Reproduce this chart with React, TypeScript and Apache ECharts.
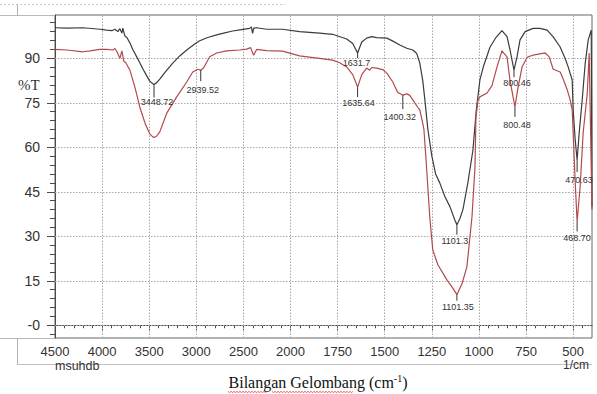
import React, { useEffect, useRef } from "react";
import * as echarts from "echarts";

// Wavenumber (cm-1) and %T for the upper (black) spectrum
const blackW = [4500, 4373, 4203, 4023, 3950, 3896, 3864, 3833, 3811, 3790, 3780, 3758, 3737, 3705, 3674, 3631, 3600, 3568, 3525, 3494, 3462, 3449, 3420, 3388, 3335, 3250, 3176, 3102, 3017, 2964, 2879, 2784, 2699, 2614, 2519, 2434, 2415, 2403, 2390, 2360, 2254, 2085, 1952, 1846, 1777, 1702, 1670, 1644, 1622, 1596, 1569, 1543, 1489, 1457, 1420, 1383, 1351, 1330, 1314, 1298, 1287, 1271, 1250, 1230, 1208, 1181, 1154, 1128, 1117, 1101, 1085, 1059, 1032, 1015, 995, 975, 941, 910, 878, 851, 835, 814, 798, 782, 755, 712, 676, 638, 606, 569, 543, 527, 505, 500, 489, 479, 468, 452, 436, 420, 404, 400];
const blackT = [100.3, 100.2, 100.3, 99.8, 99.5, 99.3, 99.8, 99.0, 100.0, 98.5, 100.2, 97.5, 97.0, 95.2, 93.0, 90.4, 88.5, 86.5, 84.0, 82.3, 81.4, 81.2, 81.8, 83.0, 85.2, 88.4, 90.8, 92.8, 94.8, 95.9, 97.0, 97.9, 98.6, 99.2, 99.7, 100.1, 100.6, 98.4, 100.2, 100.3, 99.8, 99.8, 99.0, 98.5, 98.1, 96.5, 95.0, 91.8, 95.5, 96.8, 97.3, 97.0, 96.8, 95.8, 94.5, 93.4, 92.8, 91.6, 88.4, 82.4, 76.0, 66.0, 57.0, 51.0, 48.0, 43.4, 40.0, 35.5, 33.9, 36.0, 39.0, 48.0, 59.0, 72.0, 82.7, 87.5, 93.8, 97.0, 99.3, 97.3, 92.8, 86.0, 90.5, 96.2, 99.0, 100.1, 100.1, 99.5, 97.2, 93.8, 90.0, 87.2, 82.7, 72.6, 62.4, 55.7, 64.8, 76.0, 88.4, 96.2, 99.5, 40.0];

// Wavenumber (cm-1) and %T for the lower (red) spectrum
const redW = [4500, 4373, 4203, 4129, 4023, 3950, 3886, 3864, 3843, 3811, 3790, 3769, 3748, 3705, 3652, 3600, 3545, 3494, 3462, 3449, 3420, 3388, 3314, 3208, 3102, 3038, 2985, 2953, 2922, 2858, 2784, 2678, 2540, 2466, 2424, 2392, 2360, 2254, 2085, 1952, 1846, 1777, 1739, 1702, 1670, 1644, 1622, 1596, 1580, 1569, 1543, 1511, 1489, 1457, 1431, 1404, 1383, 1367, 1351, 1325, 1314, 1298, 1292, 1282, 1261, 1245, 1218, 1170, 1144, 1117, 1090, 1064, 1037, 1021, 1016, 1005, 995, 957, 931, 904, 878, 851, 835, 809, 793, 771, 745, 712, 648, 627, 606, 569, 553, 532, 516, 505, 489, 479, 463, 447, 425, 415, 400];
const redT = [93.0, 92.8, 92.2, 92.5, 93.0, 93.0, 92.8, 93.3, 92.3, 90.0, 92.5, 89.0, 88.5, 86.0, 80.3, 73.6, 68.2, 64.5, 63.5, 63.3, 63.8, 65.2, 71.5, 77.0, 82.0, 85.4, 86.3, 86.0, 86.8, 90.5, 91.8, 92.5, 92.8, 93.1, 93.6, 91.0, 93.0, 92.6, 92.4, 90.8, 90.0, 89.4, 88.5, 87.1, 84.5, 80.3, 84.5, 86.7, 86.0, 86.9, 86.7, 86.2, 85.0, 82.0, 78.5, 77.6, 78.0, 77.5, 76.0, 73.5, 72.6, 68.0, 66.0, 57.0, 36.5, 25.4, 20.4, 15.3, 13.0, 10.3, 14.0, 19.7, 36.5, 53.4, 70.0, 76.0, 77.0, 78.3, 80.8, 87.1, 92.5, 90.5, 82.5, 73.6, 80.0, 87.1, 90.3, 91.1, 91.8, 90.5, 86.3, 85.4, 83.0, 79.5, 76.0, 72.6, 48.0, 35.0, 46.7, 64.8, 78.3, 91.8, 39.0];

// Axis tick labels
const xTickLabels = [4500, 4000, 3500, 3000, 2500, 2000, 1750, 1500, 1250, 1000, 750, 500];
const yTickLabels = [0, 15, 30, 45, 60, 75, 90];

// Peak annotations
const peakTexts = ["3448.72", "2939.52", "1631.7", "1635.64", "1400.32", "800.46", "800.48", "470.63", "468.70", "1101.3", "1101.35"];
const peakW = [3449, 2953, 1644, 1644, 1404, 814, 809, 479, 479, 1117, 1117];
const peakT = [81.2, 86.0, 91.8, 80.3, 77.6, 86.0, 73.6, 55.7, 35.0, 33.9, 10.3];

// layout of the annotation marks (line length, label dx, label dy) in px
const peakLayout: number[][] = [
  [13, 3, 18], [11, 2, 20], [5, -1, 10], [10, 1, 16], [14, -3, 22], [7, 3, 13], [10, 2, 18], [12, 2, 20], [10, 0, 17], [10, -2, 16], [6, 1, 12],
];

const U_MAX = 2850;
function toU(w: number) {
  return w >= 2000 ? (4500 - w) / 2 : 1250 + (2000 - w);
}
function fromU(u: number) {
  return u <= 1250 ? Math.round(4500 - 2 * u) : Math.round(2000 - (u - 1250));
}

export default function App() {
  const ref = useRef<HTMLDivElement>(null);
  useEffect(() => {
    const chart = echarts.init(ref.current!, null, { renderer: "svg" });
    const xMajor = xTickLabels.map(toU);
    const xMinor: number[] = [];
    for (let u = 50; u < U_MAX; u += 50) if (u % 250 !== 0) xMinor.push(u);
    const yMinor: number[] = [];
    for (let v = -3; v <= 102; v += 3) if (v % 15 !== 0) yMinor.push(v);

    const axisColor = "#4a4a4a";
    const squiggle = (x0: number, x1: number, y: number) => {
      const pts: number[][] = [];
      let k = 0;
      for (let x = x0; x <= x1; x += 1.5) {
        pts.push([x, y + (k % 2 === 0 ? -0.9 : 0.9)]);
        k++;
      }
      return pts;
    };

    const gridMarks = [
      ...xMajor.filter((u) => u > 0).map((u) => ({ xAxis: u })),
      ...yTickLabels.map((v) => ({ yAxis: v })),
    ];

    const option: any = {
      animation: false,
      backgroundColor: "#ffffff",
      grid: { left: 55, right: 5, top: 15, bottom: 56, show: true, borderColor: "#666", borderWidth: 1, backgroundColor: "transparent" },
      xAxis: [
        {
          type: "value", min: 0, max: U_MAX, position: "bottom",
          axisLine: { lineStyle: { color: axisColor } },
          axisTick: { show: true, customValues: xMajor, length: 5, lineStyle: { color: axisColor } },
          axisLabel: { customValues: xMajor, formatter: (v: number) => String(fromU(v)), color: "#333", fontSize: 13, margin: 7, fontFamily: "Liberation Sans" },
          splitLine: { show: false },
        },
        {
          type: "value", min: 0, max: U_MAX, position: "bottom",
          axisLine: { show: false },
          axisTick: { show: true, customValues: xMinor, length: 3, lineStyle: { color: axisColor } },
          axisLabel: { show: false },
          splitLine: { show: false },
        },
      ],
      yAxis: [
        {
          type: "value", min: -4.3, max: 104.6, position: "left",
          axisLine: { show: true, lineStyle: { color: axisColor } },
          axisTick: { show: true, customValues: yTickLabels, length: 8, lineStyle: { color: axisColor } },
          axisLabel: { customValues: yTickLabels, formatter: (v: number) => (v === 0 ? "-0" : String(v)), color: "#333", fontSize: 14, margin: 15, fontFamily: "Liberation Sans" },
          splitLine: { show: false },
        },
        {
          type: "value", min: -4.3, max: 104.6, position: "left",
          axisLine: { show: false },
          axisTick: { show: true, customValues: yMinor, length: 5, lineStyle: { color: axisColor } },
          axisLabel: { show: false },
          splitLine: { show: false },
        },
      ],
      series: [
        {
          type: "line", xAxisIndex: 0, yAxisIndex: 0, symbol: "none", z: 1,
          data: [],
          markLine: {
            silent: true, symbol: "none", z: 1, animation: false,
            label: { show: false },
            lineStyle: { color: "#a8a8a8", type: [1.5, 1.5], width: 1 },
            emphasis: { disabled: true },
            data: gridMarks,
          },
        },
        {
          type: "line", xAxisIndex: 0, yAxisIndex: 0, symbol: "none", z: 3,
          data: blackW.map((w, i) => [toU(w), blackT[i]]),
          lineStyle: { color: "#3c3c3c", width: 1.2 },
        },
        {
          type: "line", xAxisIndex: 0, yAxisIndex: 0, symbol: "none", z: 4,
          data: redW.map((w, i) => [toU(w), redT[i]]),
          lineStyle: { color: "#b24a4c", width: 1.2 },
        },
        {
          type: "custom", xAxisIndex: 0, yAxisIndex: 0, z: 5,
          data: peakW.map((w, i) => [toU(w), peakT[i], i]),
          renderItem: (params: any, api: any) => {
            const i = api.value(2);
            const p = api.coord([api.value(0), api.value(1)]);
            const [len, dx, dy] = peakLayout[i];
            return {
              type: "group",
              children: [
                { type: "line", shape: { x1: p[0], y1: p[1], x2: p[0], y2: p[1] + len }, style: { stroke: "#333", lineWidth: 1 } },
                { type: "text", x: p[0] + dx, y: p[1] + dy, style: { text: peakTexts[i], fill: "#333", fontSize: 9, fontFamily: "Liberation Sans", align: "center", verticalAlign: "middle" } },
              ],
            };
          },
        },
      ],
      graphic: [
        { type: "line", shape: { x1: 0, y1: 4.5, x2: 285, y2: 4.5 }, style: { stroke: "#c8c8c8", lineDash: [2, 2], lineWidth: 1 } },
        { type: "line", shape: { x1: 17.5, y1: 4, x2: 17.5, y2: 15 }, style: { stroke: "#b0b0b0", lineWidth: 1 } },
        { type: "line", shape: { x1: 0, y1: 15.5, x2: 55, y2: 15.5 }, style: { stroke: "#b8b8b8", lineWidth: 1 } },
        { type: "line", shape: { x1: 0, y1: 338.5, x2: 55, y2: 338.5 }, style: { stroke: "#b8b8b8", lineWidth: 1 } },
        { type: "line", shape: { x1: 17.5, y1: 338, x2: 17.5, y2: 364 }, style: { stroke: "#b0b0b0", lineWidth: 1 } },
        { type: "line", shape: { x1: 17, y1: 364.5, x2: 592, y2: 364.5 }, style: { stroke: "#c0c0c0", lineWidth: 1 } },
        { type: "text", x: 18, y: 77, style: { text: "%T", fontSize: 15, fontFamily: "Liberation Serif", fill: "#333" } },
        { type: "text", x: 55, y: 359, style: { text: "msuhdb", fontSize: 12.5, fontFamily: "Liberation Sans", fill: "#333" } },
        { type: "text", x: 563, y: 359, style: { text: "1/cm", fontSize: 12, fontFamily: "Liberation Sans", fill: "#333" } },
        {
          type: "text", x: 318, y: 382,
          style: {
            text: "{a|Bilangan Gelombang (cm}{s|-1}{a|)}",
            align: "center", verticalAlign: "middle",
            rich: {
              a: { fontSize: 16, fontFamily: "Liberation Serif", fill: "#111", lineHeight: 18 },
              s: { fontSize: 10, fontFamily: "Liberation Serif", fill: "#111", verticalAlign: "top", lineHeight: 18 },
            },
          },
        },
        { type: "polyline", shape: { points: squiggle(228, 268, 392) }, style: { stroke: "#e05050", lineWidth: 0.8, fill: null } },
        { type: "polyline", shape: { points: squiggle(272, 354, 392) }, style: { stroke: "#e05050", lineWidth: 0.8, fill: null } },
      ],
    };
    chart.setOption(option);
    return () => chart.dispose();
  }, []);
  return <div ref={ref} style={{ width: 597, height: 394, position: "absolute", left: 0, top: 0 }} />;
}
